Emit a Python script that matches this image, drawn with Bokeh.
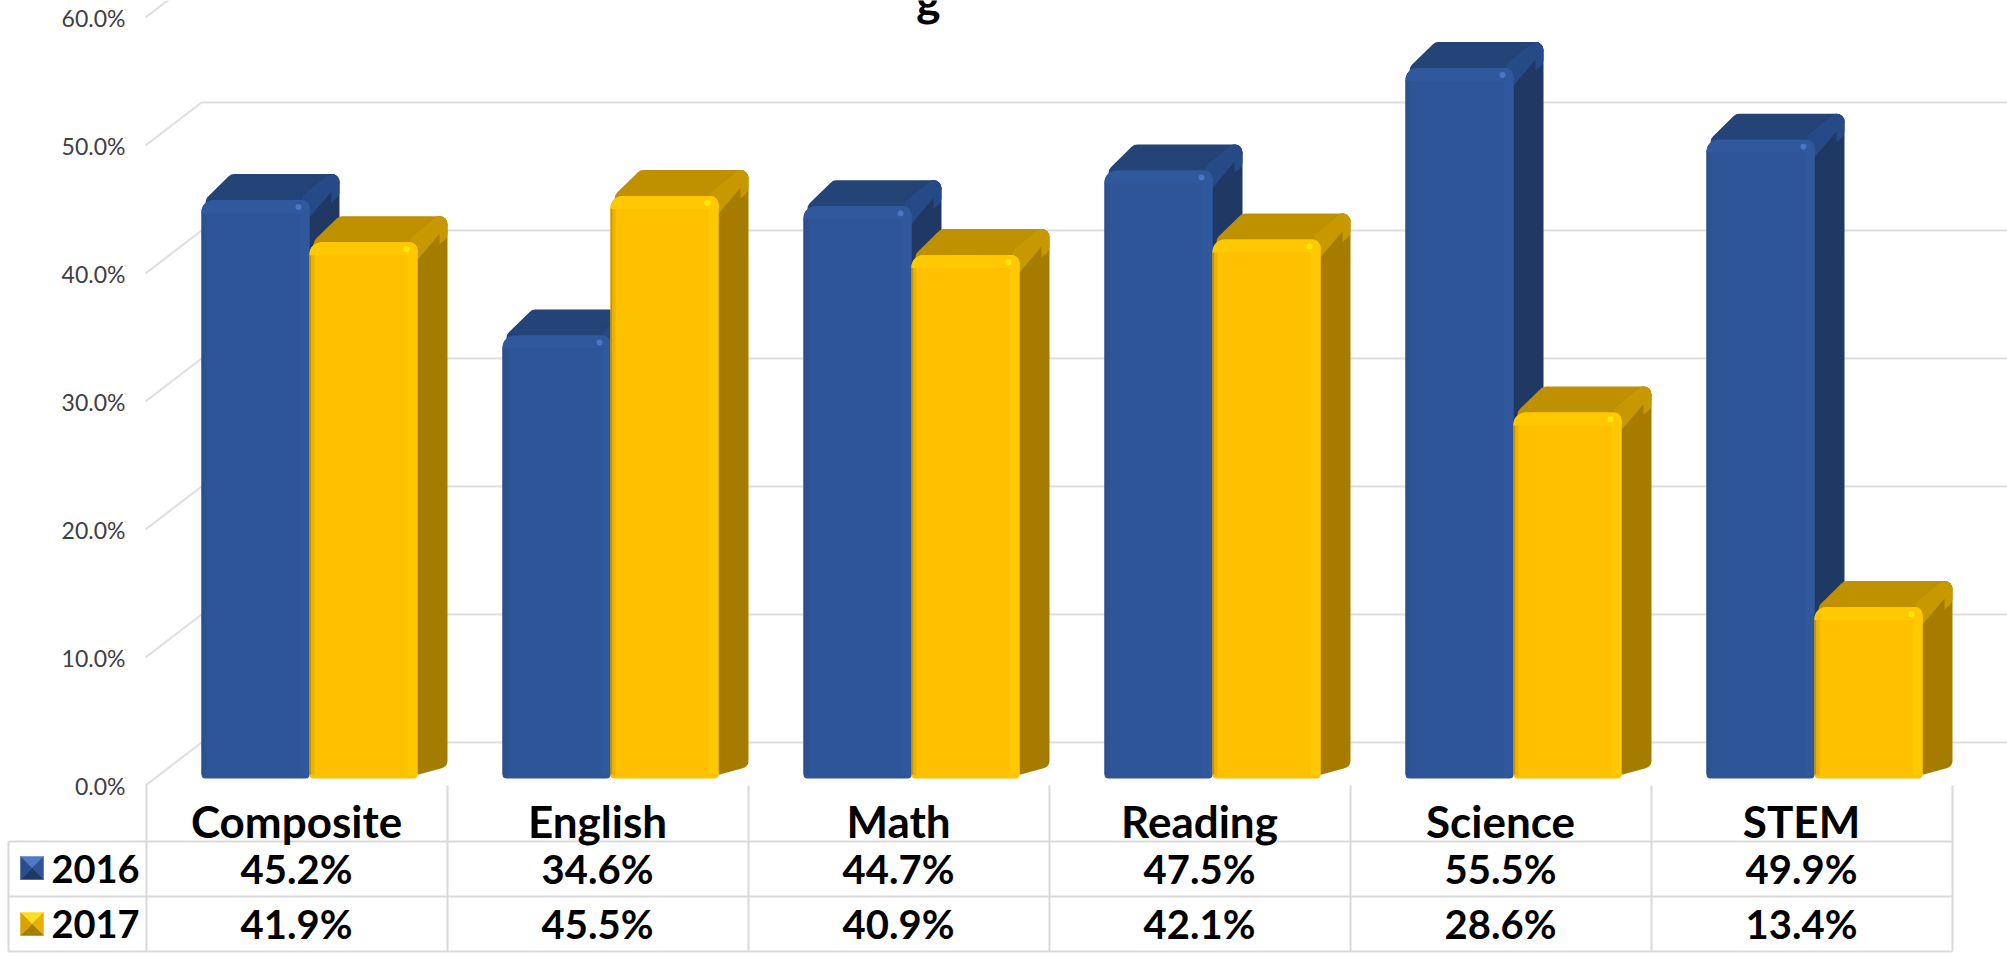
from bokeh.plotting import figure
from bokeh.models import Range1d, LinearAxis, FixedTicker, PrintfTickFormatter
from bokeh.core.properties import value
from bokeh.embed import file_html
from bokeh.resources import INLINE

categories = ["Composite", "English", "Math", "Reading", "Science", "STEM"]
series_names = ["2016", "2017"]
values_2016 = [45.2, 34.6, 44.7, 47.5, 55.5, 49.9]
values_2017 = [41.9, 45.5, 40.9, 42.1, 28.6, 13.4]
y_ticks = [0, 10, 20, 30, 40, 50, 60]

W, H = 2007, 956
UX, UY = 301.0, 12.8          # pixels per category, pixels per percent
X0, Y_BAR, Y_AXIS = 309.0, 778.0, 785.0
BAR_W = 108 / UX
DX, DY = 30 / UX, 26 / UY     # bar depth
WALL_DX, WALL_DY = 56 / UX, 43 / UY
AXIS_X = (145 - X0) / UX
FONT = "Lato"

STY = [
    dict(front="#2E5597", side="#1F3864", top="#244376", bevel="#2F589D", edge_l="#2A4E8B",
         edge_l2="#2C5290", dot="#4A76C8", side_hi="#264A85"),
    dict(front="#FFC000", side="#A67C00", top="#BF9000", bevel="#FFC800", edge_l="#C79500",
         edge_l2="#EDB200", dot="#FFE800", side_hi="#C89800"),
]

p = figure(width=W, height=H, output_backend="svg", toolbar_location=None,
           x_range=Range1d((0 - X0) / UX, (W - X0) / UX),
           y_range=Range1d((Y_BAR - H) / UY, Y_BAR / UY),
           x_axis_type=None, y_axis_type=None, min_border=0,
           outline_line_color=None, background_fill_color="white",
           margin=0)
p.grid.visible = False
p.extra_y_ranges = {"axis": Range1d((Y_AXIS - H) / UY, Y_AXIS / UY), "px": Range1d(H, 0)}
p.extra_x_ranges = {"px": Range1d(0, W)}

# value axis, placed inside the frame at the front-left edge of the floor
ax = LinearAxis(y_range_name="axis", fixed_location=AXIS_X,
                ticker=FixedTicker(ticks=y_ticks),
                formatter=PrintfTickFormatter(format="%.1f%%"),
                axis_line_color=None, major_tick_line_color=None, minor_tick_line_color=None,
                major_label_standoff=14, major_label_text_font=FONT,
                major_label_text_font_size="23px", major_label_text_color="#404040")
p.add_layout(ax, "left")

GRID = "#DEDEDE"
# back wall gridlines and the diagonal side wall lines
p.segment(x0=[AXIS_X + WALL_DX] * len(y_ticks), y0=[t + WALL_DY for t in y_ticks],
          x1=[(W - X0) / UX] * len(y_ticks), y1=[t + WALL_DY for t in y_ticks],
          y_range_name="axis", line_color=GRID, line_width=2)
p.segment(x0=[AXIS_X] * len(y_ticks), y0=y_ticks,
          x1=[AXIS_X + WALL_DX] * len(y_ticks), y1=[t + WALL_DY for t in y_ticks],
          y_range_name="axis", line_color=GRID, line_width=2)

R = 8.0
rx, ry = R / UX, R / UY


def bar3d(xc_left, v, st):
    xl, xr = xc_left, xc_left + BAR_W
    # top face (rounded back corners through a thick round-joined stroke)
    ax_ = xl + 1.5 * rx
    bx_ = ax_ + DX - rx * 30 / 26
    tx = [ax_, bx_, xr + DX - rx, xr]
    ty = [v - ry * 0.3, v + DY - ry, v + DY - ry, v]
    p.patch(tx, ty, fill_color=st["top"], line_color=st["top"], line_width=2 * R, line_join="round")
    # side face
    sx = [xr, xr + DX - rx, xr + DX - rx, xr]
    sy = [1.5 * ry, DY - 1.0 * ry, v + DY - ry, v]
    p.patch(sx, sy, fill_color=st["side"], line_color=st["side"], line_width=2 * R, line_join="round")
    # lighter bevel on the upper edges of the side
    hx = [xr, xr + DX - rx, xr + DX - rx, xr]
    hy = [v - 10 / UY, v + DY - ry - 10 / UY, v + DY - ry, v]
    p.patch(hx, hy, fill_color=st["side_hi"], line_color=st["side_hi"], line_width=2 * R,
            line_join="round")
    p.patch([xr, xr + DX - rx, xr + DX - rx, xr],
            [1.5 * ry, DY - ry, v + DY - 2.2 * ry, v - 2.2 * ry],
            fill_color=st["side"], line_color=None)
    # front face
    xm = xl + BAR_W / 2
    p.vbar(x=[xm], width=BAR_W, bottom=0, top=[v], fill_color=st["front"], line_color=None,
           border_radius=(12, 8, 4, 4))
    # bevels of the front face
    p.quad(left=[xr - 10 / UX], right=[xr], bottom=[3 / UY], top=[v - 8 / UY],
           fill_color=st["bevel"], line_color=None)
    p.quad(left=[xl], right=[xl + 2 / UX], bottom=[4 / UY], top=[v - 12 / UY],
           fill_color=st["edge_l"], line_color=None)
    p.quad(left=[xl + 2 / UX], right=[xl + 5 / UX], bottom=[3 / UY], top=[v - 10 / UY],
           fill_color=st["edge_l2"], line_color=None)
    p.vbar(x=[xm], width=BAR_W, bottom=[v - 13 / UY], top=[v],
           fill_color=st["bevel"], line_color=None, border_radius=(12, 8, 0, 0))
    p.scatter(x=[xr - 11 / UX], y=[v - 7 / UY], size=6, marker="circle",
              fill_color=st["dot"], line_color=None)


for i, (a, b) in enumerate(zip(values_2016, values_2017)):
    bar3d(i - BAR_W, a, STY[0])
    bar3d(i, b, STY[1])

# data table
TBL = "#D9D9D9"
row_lines = [841, 896, 951]
col_x = [146 + 301 * i for i in range(len(categories) + 1)]
p.segment(x0=[8] * 3, y0=row_lines, x1=[col_x[-1]] * 3, y1=row_lines,
          x_range_name="px", y_range_name="px", line_color=TBL, line_width=2)
p.segment(x0=col_x, y0=[785] * len(col_x), x1=col_x, y1=[951] * len(col_x),
          x_range_name="px", y_range_name="px", line_color=TBL, line_width=2)
p.segment(x0=[8], y0=[841], x1=[8], y1=[951],
          x_range_name="px", y_range_name="px", line_color=TBL, line_width=2)

cx = [296 + 301 * i for i in range(len(categories))]
p.text(x=cx, y=[820] * 6, text=categories, x_range_name="px", y_range_name="px",
       text_font=value(FONT), text_font_style="bold", text_font_size="44px",
       text_align="center", text_baseline="middle", text_color="black")
p.text(x=cx, y=[868] * 6, text=[f"{v:.1f}%" for v in values_2016], x_range_name="px", y_range_name="px",
       text_font=value(FONT), text_font_style="bold", text_font_size="40px",
       text_align="center", text_baseline="middle", text_color="black")
p.text(x=cx, y=[923] * 6, text=[f"{v:.1f}%" for v in values_2017], x_range_name="px", y_range_name="px",
       text_font=value(FONT), text_font_style="bold", text_font_size="40px",
       text_align="center", text_baseline="middle", text_color="black")
p.text(x=[51, 51], y=[868, 923], text=series_names, x_range_name="px", y_range_name="px",
       text_font=value(FONT), text_font_style="bold", text_font_size="38px",
       text_align="left", text_baseline="middle", text_color="black")

# legend keys (bevelled squares)
KEYS = [(20, 856, ["#4E7AC7", "#2F5597", "#1F3864", "#2A4E8B"]),
        (20, 912, ["#FFDD22", "#E8B000", "#A67C00", "#D9A300"])]
for kx, ky, cols in KEYS:
    s, b = 23, 23
    mx, my = kx + s / 2, ky + b / 2
    faces = [([kx, kx + s, mx], [ky, ky, my]),
             ([kx + s, kx + s, mx], [ky, ky + b, my]),
             ([kx, kx + s, mx], [ky + b, ky + b, my]),
             ([kx, kx, mx], [ky, ky + b, my])]
    for (fx, fy), c in zip(faces, cols):
        p.patch(fx, fy, fill_color=c, line_color=c, line_width=0.5, x_range_name="px", y_range_name="px")

# the only visible part of the cut-off chart title
p.text(x=[928], y=[-2], text=["g"], x_range_name="px", y_range_name="px",
       text_font=value(FONT), text_font_style="bold", text_font_size="46px",
       text_align="center", text_baseline="alphabetic", text_color="black")

open("out.html", "w").write(file_html(p, INLINE))
